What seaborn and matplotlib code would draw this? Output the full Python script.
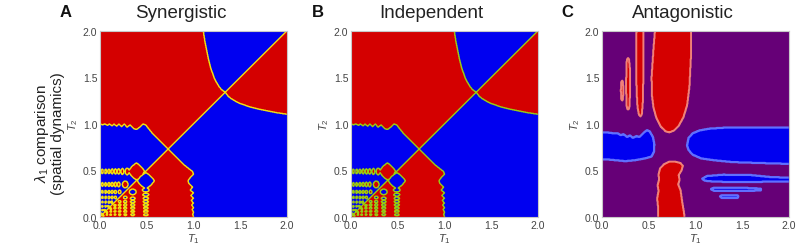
import numpy as np
import matplotlib
matplotlib.use("Agg")
import matplotlib.pyplot as plt
import seaborn as sns
from matplotlib.colors import ListedColormap
from matplotlib.path import Path

# ---------------- data ----------------
titles = ["Synergistic", "Independent", "Antagonistic"]
letters = ["A", "B", "C"]
tick_vals = [0.0, 0.5, 1.0, 1.5, 2.0]
tick_labels = ["0.0", "0.5", "1.0", "1.5", "2.0"]

# Panels A/B: sign-change boundaries in the upper half (T2 > T1); lower half mirrors with opposite sign
wave_t1 = [0.00, 0.03, 0.05, 0.08, 0.10, 0.13, 0.15, 0.18, 0.20, 0.23, 0.26, 0.29, 0.32,
           0.36, 0.39, 0.43, 0.46, 0.49, 0.52, 0.56, 0.62, 0.68, 0.73]
wave_t2 = [1.00, 0.99, 1.00, 0.985, 1.00, 0.98, 1.00, 0.975, 1.00, 0.97, 1.00, 0.965, 0.99,
           0.95, 0.94, 0.97, 1.00, 0.99, 0.95, 0.90, 0.84, 0.78, 0.73]
hyper_t2 = [1.34, 1.37, 1.40, 1.45, 1.50, 1.60, 1.70, 1.80, 1.90, 2.00]
hyper_t1 = [1.34, 1.30, 1.275, 1.245, 1.22, 1.185, 1.16, 1.14, 1.12, 1.105]

# red islands inside the blue zone (upper half); centre, half-width, half-height, shape exponent
blob_t1 = [0.025, 0.06, 0.095, 0.13, 0.165, 0.20, 0.24, 0.29, 0.39,
           0.025, 0.06, 0.095, 0.13, 0.165, 0.20, 0.27,
           0.025, 0.06, 0.095, 0.13, 0.165, 0.21,
           0.025, 0.06, 0.095, 0.13, 0.165,
           0.025, 0.06, 0.095, 0.125,
           0.025, 0.06, 0.09,
           0.025, 0.05,
           0.015]
blob_t2 = [0.49] * 9 + [0.35] * 7 + [0.27] * 6 + [0.21] * 5 + [0.16] * 4 + [0.115] * 3 + [0.075] * 2 + [0.035]
blob_w = [0.010, 0.010, 0.011, 0.011, 0.012, 0.013, 0.015, 0.020, 0.085,
          0.010, 0.010, 0.011, 0.011, 0.012, 0.013, 0.030,
          0.009, 0.010, 0.010, 0.011, 0.011, 0.014,
          0.009, 0.009, 0.010, 0.010, 0.011,
          0.008, 0.009, 0.009, 0.010,
          0.008, 0.008, 0.009,
          0.007, 0.008,
          0.007]
blob_h = [0.024, 0.025, 0.026, 0.027, 0.028, 0.030, 0.032, 0.036, 0.090,
          0.020, 0.021, 0.022, 0.023, 0.024, 0.026, 0.036,
          0.015, 0.016, 0.016, 0.017, 0.018, 0.020,
          0.012, 0.013, 0.013, 0.014, 0.014,
          0.010, 0.011, 0.011, 0.012,
          0.009, 0.009, 0.010,
          0.008, 0.008,
          0.007]
blob_p = [2.0] * 8 + [1.25] + [2.0] * 28

# Panel C regions (polygons in T1, T2)
red_regions = [
    ([0.57, 0.55, 0.53, 0.535, 0.55, 0.58, 0.63, 0.68, 0.72, 0.77, 0.82, 0.87, 0.91, 0.935, 0.95, 0.95],
     [2.05, 1.80, 1.50, 1.30, 1.18, 1.07, 0.97, 0.92, 0.91, 0.93, 0.98, 1.07, 1.20, 1.40, 1.70, 2.05]),
    ([0.37, 0.365, 0.37, 0.38, 0.395, 0.41, 0.425, 0.435, 0.44, 0.445, 0.445],
     [2.05, 1.70, 1.35, 1.18, 1.10, 1.08, 1.10, 1.20, 1.40, 1.70, 2.05]),
    ([0.262, 0.27, 0.28, 0.29, 0.298, 0.30, 0.296, 0.285, 0.272, 0.262, 0.258],
     [1.66, 1.70, 1.71, 1.69, 1.60, 1.40, 1.20, 1.155, 1.16, 1.20, 1.40]),
    ([0.205, 0.215, 0.225, 0.228, 0.225, 0.215, 0.205, 0.202],
     [1.45, 1.47, 1.45, 1.36, 1.27, 1.25, 1.27, 1.36]),
    ([0.60, 0.60, 0.59, 0.605, 0.595, 0.61, 0.605, 0.62, 0.66, 0.72, 0.78, 0.84, 0.865,
      0.85, 0.82, 0.83, 0.815, 0.84, 0.85, 0.86, 0.875, 0.89],
     [-0.05, 0.10, 0.20, 0.28, 0.34, 0.40, 0.46, 0.52, 0.565, 0.595, 0.595, 0.58, 0.55,
      0.50, 0.45, 0.40, 0.35, 0.29, 0.22, 0.15, 0.06, -0.05]),
]
blue_regions = [
    ([-0.05, 0.05, 0.12, 0.17, 0.20, 0.23, 0.27, 0.30, 0.33, 0.37, 0.40, 0.44, 0.48, 0.51,
      0.545, 0.56, 0.555, 0.53, 0.46, 0.35, 0.25, 0.15, 0.05, -0.05],
     [0.91, 0.91, 0.90, 0.90, 0.88, 0.89, 0.86, 0.88, 0.85, 0.87, 0.86, 0.90, 0.935, 0.92,
      0.86, 0.78, 0.70, 0.65, 0.63, 0.61, 0.60, 0.61, 0.62, 0.62]),
    ([0.91, 0.925, 0.97, 1.04, 1.15, 1.30, 1.60, 2.05, 2.05, 1.70, 1.40, 1.20, 1.06, 0.97, 0.925],
     [0.77, 0.85, 0.90, 0.93, 0.95, 0.96, 0.96, 0.96, 0.57, 0.58, 0.59, 0.61, 0.63, 0.67, 0.72]),
    ([1.07, 1.12, 1.30, 1.60, 1.80, 2.05, 2.05, 1.80, 1.50, 1.20, 1.10],
     [0.41, 0.44, 0.455, 0.45, 0.43, 0.42, 0.38, 0.38, 0.375, 0.38, 0.39]),
    ([1.16, 1.20, 1.50, 1.70, 1.70, 1.50, 1.20],
     [0.30, 0.315, 0.315, 0.305, 0.285, 0.28, 0.28]),
    ([1.26, 1.28, 1.45, 1.46, 1.45, 1.28],
     [0.22, 0.235, 0.235, 0.22, 0.205, 0.205]),
]

# ---------------- styling ----------------
RED = "#d40000"
BLUE = "#0000f0"
PURPLE = "#660077"
LINE_A = "#f0e010"
LINE_B = "#99cc11"
LINE_RED = "#f08078"
LINE_BLUE = "#6070ff"

sns.set_theme(style="white")
plt.rcParams["font.family"] = ["Liberation Sans", "DejaVu Sans"]
plt.rcParams["mathtext.fontset"] = "custom"
plt.rcParams["mathtext.it"] = "Liberation Sans:italic"
plt.rcParams["mathtext.rm"] = "Liberation Sans"

N = 420
c = (np.arange(N) + 0.5) / N * 2.0
U, V = np.meshgrid(c, c)
idx = np.arange(N) + 0.5


def upper_red(u, v):
    wave = np.interp(u, wave_t1, wave_t2)
    above = (v > wave) | (u >= wave_t1[-1])
    h = np.interp(v, hyper_t2, hyper_t1, left=10.0, right=hyper_t1[-1])
    inside = u < h
    blob = np.zeros(u.shape, dtype=bool)
    for bx, by, bw, bh, bp in zip(blob_t1, blob_t2, blob_w, blob_h, blob_p):
        blob |= (np.abs((u - bx) / bw) ** bp + np.abs((v - by) / bh) ** bp) <= 1.0
    return (above & inside) | (~above & blob)


upper = V > U
field_ab = np.where(upper, upper_red(U, V), ~upper_red(V, U)).astype(float)

pts = np.column_stack([U.ravel(), V.ravel()])
field_c = np.zeros(U.shape)
for xs, ys in red_regions:
    m = Path(np.column_stack([xs, ys])).contains_points(pts).reshape(U.shape)
    field_c[m] = 1
for xs, ys in blue_regions:
    m = Path(np.column_stack([xs, ys])).contains_points(pts).reshape(U.shape)
    field_c[m] = 2

fig = plt.figure(figsize=(8.0, 2.51), dpi=100)
lefts = [100 / 800, 351 / 800, 602 / 800]
bottom = (251 - 218) / 251
width = 187 / 800
height = 186 / 251
title_x = [181, 431.5, 683]
letter_x = [60, 311.5, 561.5]

for k in range(3):
    ax = fig.add_axes([lefts[k], bottom, width, height])
    if k < 2:
        sns.heatmap(field_ab, ax=ax, cmap=ListedColormap([BLUE, RED]), vmin=0, vmax=1,
                    cbar=False, xticklabels=False, yticklabels=False, rasterized=True)
        ax.contour(idx, idx, field_ab, levels=[0.5], colors=[LINE_A if k == 0 else LINE_B],
                   linewidths=1.0)
    else:
        sns.heatmap(field_c, ax=ax, cmap=ListedColormap([PURPLE, RED, BLUE]), vmin=0, vmax=2,
                    cbar=False, xticklabels=False, yticklabels=False, rasterized=True)
        ax.contour(idx, idx, (field_c == 1).astype(float), levels=[0.5], colors=[LINE_RED],
                   linewidths=1.4)
        ax.contour(idx, idx, (field_c == 2).astype(float), levels=[0.5], colors=[LINE_BLUE],
                   linewidths=1.6)
    ax.set_xlim(0, N)
    ax.set_ylim(0, N)
    pos = [v / 2.0 * N for v in tick_vals]
    ax.set_xticks(pos)
    ax.set_xticklabels(tick_labels)
    ax.set_yticks(pos)
    ax.set_yticklabels(tick_labels, rotation=0)
    ax.tick_params(axis="both", length=0, pad=2, labelsize=7.5, labelcolor="#444444")
    for s in ax.spines.values():
        s.set_visible(True)
        s.set_color("#c8c8c8")
        s.set_linewidth(0.8)
    ax.set_xlabel(r"$T_1$", fontsize=8, color="#444444", labelpad=1)
    ax.set_ylabel(r"$T_2$", fontsize=8, color="#444444", labelpad=2)
    fig.text(title_x[k] / 800, 1 - 18.5 / 251, titles[k], ha="center", va="baseline",
             fontsize=13.5, color="#222222")
    fig.text(letter_x[k] / 800, 1 - 17.5 / 251, letters[k], ha="left", va="baseline",
             fontsize=12, fontweight="bold", color="#111111")

fig.text(49 / 800, 1 - 134 / 251, "$\\lambda_1$ comparison\n(spatial dynamics)",
         rotation=90, ha="center", va="center", fontsize=11, color="#222222",
         multialignment="center", linespacing=1.05)

fig.savefig("out.png", dpi=100)
